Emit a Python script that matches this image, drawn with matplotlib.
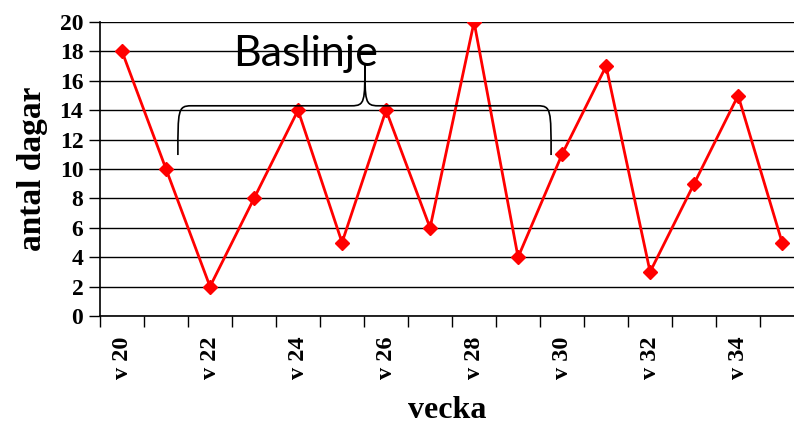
import matplotlib
matplotlib.use("Agg")
import matplotlib.pyplot as plt
from matplotlib.path import Path
from matplotlib.patches import PathPatch

# data
weeks = list(range(20, 36))
days = [18, 10, 2, 8, 14, 5, 14, 6, 20, 4, 11, 17, 3, 9, 15, 5]
labels = ["v %d" % w if w % 2 == 0 else "" for w in weeks]

serif = ["Liberation Serif", "DejaVu Serif"]

fig = plt.figure(figsize=(7.94, 4.26), dpi=100)
ax = fig.add_axes([100 / 794, 110 / 426, 694 / 794, 294 / 426])

x = list(range(len(weeks)))
ax.plot(x, days, color="red", lw=2, marker="D", ms=7.5, mec="red", mfc="red", zorder=3)

ax.set_xlim(-0.5, 15.27)
ax.set_ylim(0, 20)

# horizontal grid
ax.set_yticks(range(0, 21, 2))
ax.yaxis.grid(True, color="black", lw=1)
ax.set_axisbelow(True)
for s in ["top", "right"]:
    ax.spines[s].set_visible(False)
ax.spines["left"].set_linewidth(1.2)
ax.spines["bottom"].set_linewidth(1.2)

ax.tick_params(axis="y", direction="out", length=8, width=1, pad=4)
for t in ax.get_yticklabels():
    t.set_fontfamily(serif)
    t.set_fontweight("bold")
    t.set_fontsize(17)

# tick marks at the category boundaries, labels at the centres
ax.set_xticks([i - 0.5 for i in range(len(weeks))])
ax.set_xticklabels([])
ax.tick_params(axis="x", which="major", direction="out", length=8, width=1)
ax.set_xticks(x, minor=True)
ax.set_xticklabels(labels, minor=True, rotation=90, fontfamily=serif,
                   fontweight="bold", fontsize=17.5)
ax.tick_params(axis="x", which="minor", length=0, pad=15)

ax.set_ylabel("antal dagar", fontfamily=serif, fontweight="bold", fontsize=24, labelpad=8)
ax.set_xlabel("vecka", fontfamily=serif, fontweight="bold", fontsize=23, labelpad=12)

# curly brace over the baseline weeks
x0, x1, xm = 1.27, 9.75, 5.52
yb, yh, yp = 10.95, 14.3, 17.2
dx = 0.3
verts = [
    (x0, yb), (x0, yh - 0.3), (x0, yh), (x0 + dx, yh),
    (xm - dx, yh), (xm, yh), (xm, yh + 0.3), (xm, yp),
    (xm, yh + 0.3), (xm, yh), (xm + dx, yh),
    (x1 - dx, yh), (x1, yh), (x1, yh - 0.3), (x1, yb),
]
codes = [Path.MOVETO, Path.CURVE4, Path.CURVE4, Path.CURVE4,
         Path.LINETO, Path.CURVE4, Path.CURVE4, Path.CURVE4,
         Path.CURVE4, Path.CURVE4, Path.CURVE4,
         Path.LINETO, Path.CURVE4, Path.CURVE4, Path.CURVE4]
ax.add_patch(PathPatch(Path(verts, codes), fill=False, color="black", lw=1.2, zorder=4))
ax.text(4.16, 17.85, "Baslinje", fontfamily=["Lato", "DejaVu Sans"], fontsize=31,
        ha="center", va="center", zorder=5)

fig.savefig("out.png", dpi=100)
